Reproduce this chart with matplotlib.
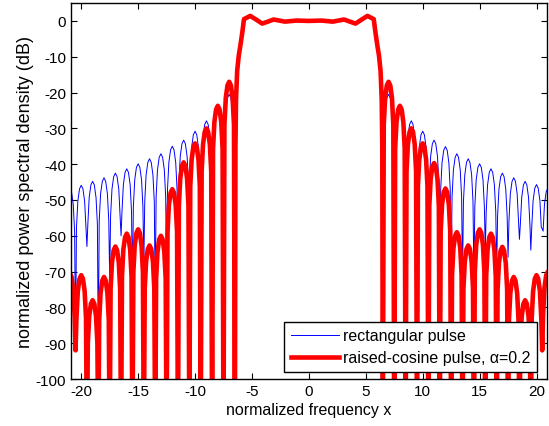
import matplotlib
matplotlib.use("Agg")
import matplotlib.pyplot as plt

plt.rcParams['font.family'] = ['Liberation Sans', 'DejaVu Sans']
plt.rcParams['axes.unicode_minus'] = False

# side-lobe peaks sit on integer x, nulls half way between
left_peak_x = [-21, -20, -19, -18, -17, -16, -15, -14, -13, -12, -11, -10, -9, -8, -7]
right_peak_x = [7, 8, 9, 10, 11, 12, 13, 14, 15, 16, 17, 18, 19, 20, 21]

# rectangular pulse (blue)
rect_left_peak = [-46.8, -45.9, -44.8, -43.8, -42.5, -41.3, -39.9, -38.5, -37.1, -35.0, -33.3, -30.8, -27.9, -25.5, -20.5]
rect_left_null = [-92, -63, -92, -72, -60, -75, -68, -78, -70, -80, -75, -85, -80, -85]
rect_right_peak = [-20.5, -25.5, -27.9, -30.8, -33.3, -35.1, -37.1, -38.5, -39.9, -41.3, -42.5, -43.8, -44.8, -45.7, -46.7]
rect_right_null = [-85, -80, -85, -75, -80, -70, -72, -72, -64, -70, -66, -61, -64, -58]

# raised-cosine pulse (red)
rc_left_peak = [-70.5, -71, -78, -71.5, -63, -59.4, -58.2, -62.7, -60, -47, -39.5, -34.2, -30, -23.7, -17]
rc_left_null = [-92, -120, -120, -120, -120, -120, -120, -120, -120, -120, -120, -120, -120, -120]
rc_right_peak = [-17, -23.7, -30, -34.2, -39.7, -46.8, -59, -62.7, -58.2, -59.4, -63.1, -71.5, -78, -71, -70]
rc_right_null = [-120, -120, -120, -120, -120, -120, -120, -120, -120, -120, -120, -120, -120, -92]

# main lobe
band_x = [-6.5, -6.45, -6.4, -6.3, -6.16, -6.0, -5.84, -5.7, -5.15, -4.6, -4.1, -3.6, -3.1, -2.1, -1.1, 0,
          1.1, 2.1, 3.1, 3.6, 4.1, 4.6, 5.15, 5.7, 5.84, 6.0, 6.16, 6.3, 6.4, 6.45, 6.5]
rc_band_db = [-120, -35, -22, -14, -9.7, -6.5, -3, 0.5, 1.4, 0.3, -0.75, -0.2, 0.4, -0.2, 0.1, 0,
              0.1, -0.2, 0.4, -0.2, -0.75, 0.3, 1.4, 0.5, -3, -6.5, -9.7, -14, -22, -35, -120]
rect_band_db = [-120, -38, -25, -16, -11, -7, -3.5, 0.3, 1.0, 0.1, -0.6, -0.3, 0.2, -0.4, 0.0, 0,
                0.0, -0.4, 0.2, -0.3, -0.6, 0.1, 1.0, 0.3, -3.5, -7, -11, -16, -25, -38, -120]

# shape of one side lobe around its peak (offset in x, drop in dB)
lobe_off = [-0.42, -0.3, -0.15, 0, 0.15, 0.3, 0.42]
lobe_drop = [-12, -4.5, -1, 0, -1, -4.5, -12]


def side(peaks_x, peaks_db, nulls_db):
    xs, ys = [], []
    for i, (px, pd) in enumerate(zip(peaks_x, peaks_db)):
        xs += [px + o for o in lobe_off]
        ys += [pd + d for d in lobe_drop]
        if i < len(nulls_db):
            xs.append(px + 0.5)
            ys.append(nulls_db[i])
    return xs, ys


def curve(lp, ln, band, rp, rn):
    lx, ly = side(left_peak_x, lp, ln)
    rx, ry = side(right_peak_x, rp, rn)
    return lx + band_x + rx, ly + band + ry


bx, by = curve(rect_left_peak, rect_left_null, rect_band_db, rect_right_peak, rect_right_null)
rx, ry = curve(rc_left_peak, rc_left_null, rc_band_db, rc_right_peak, rc_right_null)

fig = plt.figure(figsize=(5.49, 4.27), dpi=100)
ax = fig.add_axes([0.1293, 0.110, 0.8666, 0.8806])
ax.plot(bx, by, color=(0, 0, 1), linewidth=0.7, label='rectangular pulse')
ax.plot(rx, ry, color=(1, 0, 0), linewidth=3.3, label='raised-cosine pulse, α=0.2')

ax.set_xlim(-20.9, 20.9)
ax.set_ylim(-100, 5)
ax.set_xticks(range(-20, 21, 5))
ax.set_yticks(range(-100, 1, 10))
ax.tick_params(direction='in', top=True, right=True, length=4, labelsize=11, width=0.8)
for s in ax.spines.values():
    s.set_linewidth(1.0)
ax.set_xlabel('normalized frequency x', fontsize=11.5, labelpad=3)
ax.set_ylabel('normalized power spectral density (dB)', fontsize=13, labelpad=1)

leg = ax.legend(loc='lower right', bbox_to_anchor=(0.98, 0.019), borderaxespad=0,
                fancybox=False, edgecolor='black', framealpha=1, fontsize=11.5,
                handlelength=3.0, borderpad=0.4, labelspacing=0.45, handletextpad=0.3)
leg.get_frame().set_linewidth(1.0)

fig.savefig('out.png', dpi=100)
